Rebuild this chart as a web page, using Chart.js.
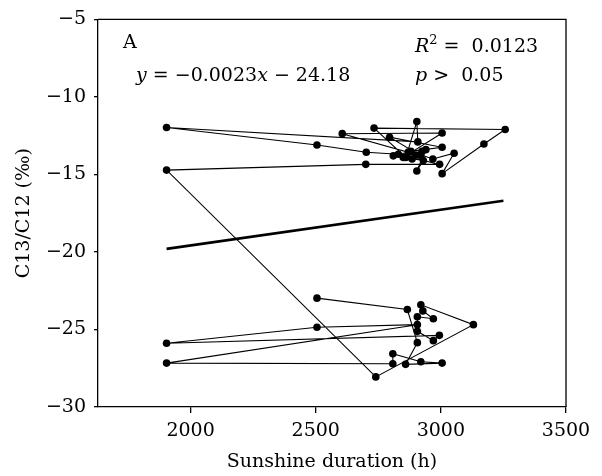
<!DOCTYPE html>
<html>
<head>
<meta charset="utf-8">
<script src="https://cdn.jsdelivr.net/npm/chart.js@4.4.0/dist/chart.umd.min.js"></script>
<style>
  html, body { margin: 0; padding: 0; background: #fff; }
  #box { width: 602px; height: 476px; }
</style>
</head>
<body>
<div id="box"><canvas id="wykres"></canvas></div>
<script>
// sunshine duration (h) and C13/C12 (per mille), in sequence
const sunshineHours = [2505,2866,2906,2859,3005,2920,2808,2808,1904,2906,2505,1904,2994,2970,2906,2906,2970,2928,2920,3130,2740,
  1904,2700,2995,2830,2702,2505,1904,2908,2904,2860,2733,3257,3172,3005,3053,2968,2880,3005,2795,2920,2606,3005,2850,2940,2904,2930,2810,
  2870,2900,2885,2925];
const c13Ratio = [-22.98,-23.71,-25.85,-27.25,-27.17,-27.08,-26.57,-27.21,-27.17,-24.69,-24.86,-25.89,-25.38,-25.72,-25.12,-24.18,-24.31,-23.8,-23.41,-24.69,-28.06,
  -14.72,-14.35,-14.35,-13.7,-13.57,-13.1,-11.97,-12.9,-11.59,-13.9,-12.01,-12.1,-13.04,-14.95,-13.63,-14.0,-13.5,-13.25,-12.6,-13.8,-12.37,-12.33,-13.9,-13.4,-14.78,-14.1,-13.8,
  -13.55,-13.75,-14.0,-13.5];
// fitted line end points
const fitX = [1904, 3250];
const fitY = [-19.8, -16.7];
const xTicks = [2000, 2500, 3000, 3500];
const yTicks = [-30, -25, -20, -15, -10, -5];

const serif = "'DejaVu Serif', 'Liberation Serif', serif";
const fs = 19;

const punkty = sunshineHours.map((x, i) => ({x: x, y: c13Ratio[i]}));
const linia = fitX.map((x, i) => ({x: x, y: fitY[i]}));

// pieces of text: [text, italic, sup]
function napis(ctx, x, y, czesci, size) {
    let px = x;
    czesci.forEach(c => {
        const sup = c[2] === 'sup';
        const s = sup ? Math.round(size * 0.7) : size;
        ctx.font = (c[1] ? 'italic ' : '') + s + 'px ' + serif;
        ctx.fillText(c[0], px, sup ? y - size * 0.4 : y);
        px += ctx.measureText(c[0]).width;
    });
}

const ramka = {
    id: 'ramka',
    afterDraw(chart) {
        const ctx = chart.ctx, a = chart.chartArea;
        ctx.save();
        ctx.strokeStyle = '#000';
        ctx.lineWidth = 1.3;
        ctx.beginPath();
        ctx.moveTo(a.left, a.top);
        ctx.lineTo(a.right, a.top);
        ctx.lineTo(a.right, a.bottom);
        ctx.stroke();
        ctx.fillStyle = '#000';
        ctx.textBaseline = 'alphabetic';
        napis(ctx, 123, 48, [['A', false]], fs);
        napis(ctx, 415, 52, [['R', true], ['2', false, 'sup'], [' =  0.0123', false]], fs);
        napis(ctx, 136, 81, [['y', true], [' = \u22120.0023', false], ['x', true], [' \u2212 24.18', false]], fs);
        napis(ctx, 415, 81, [['p', true], [' >  0.05', false]], fs);
        ctx.restore();
    }
};

Chart.defaults.font.family = serif;
Chart.defaults.color = '#000';

new Chart(document.getElementById('wykres').getContext('2d'), {
    type: 'scatter',
    data: {
        datasets: [{
            data: punkty,
            showLine: true,
            borderColor: '#000',
            borderWidth: 1.1,
            backgroundColor: '#000',
            pointRadius: 3.8,
            pointBorderWidth: 0,
            pointHoverRadius: 3.8
        }, {
            data: linia,
            showLine: true,
            borderColor: '#000',
            borderWidth: 2.6,
            pointRadius: 0
        }]
    },
    options: {
        responsive: true,
        maintainAspectRatio: false,
        animation: false,
        layout: { padding: { top: 16, right: 36, left: 0, bottom: 0 } },
        plugins: { legend: { display: false }, tooltip: { enabled: false } },
        scales: {
            x: {
                type: 'linear',
                min: 1630,
                max: 3500,
                afterBuildTicks: s => { s.ticks = xTicks.map(v => ({value: v})); },
                afterFit: s => { s.height = 69; },
                grid: { drawOnChartArea: false, tickLength: 6, color: '#000', lineWidth: 1.3 },
                border: { color: '#000', width: 1.3 },
                ticks: { font: { size: fs }, padding: 7, maxRotation: 0, callback: v => String(v) },
                title: { display: true, text: 'Sunshine duration (h)', font: { size: fs }, padding: { top: 0, bottom: 3 } }
            },
            y: {
                min: -30,
                max: -5,
                afterBuildTicks: s => { s.ticks = yTicks.map(v => ({value: v})); },
                afterFit: s => { s.width = 98; },
                grid: { drawOnChartArea: false, tickLength: 4, color: '#000', lineWidth: 1.3 },
                border: { color: '#000', width: 1.3 },
                ticks: { font: { size: fs }, padding: 8, callback: v => String(v).replace('-', '\u2212') },
                title: { display: true, text: 'C13/C12 (\u2030)', font: { size: fs }, padding: { top: 13, bottom: 0 } }
            }
        }
    },
    plugins: [ramka]
});
</script>
</body>
</html>
